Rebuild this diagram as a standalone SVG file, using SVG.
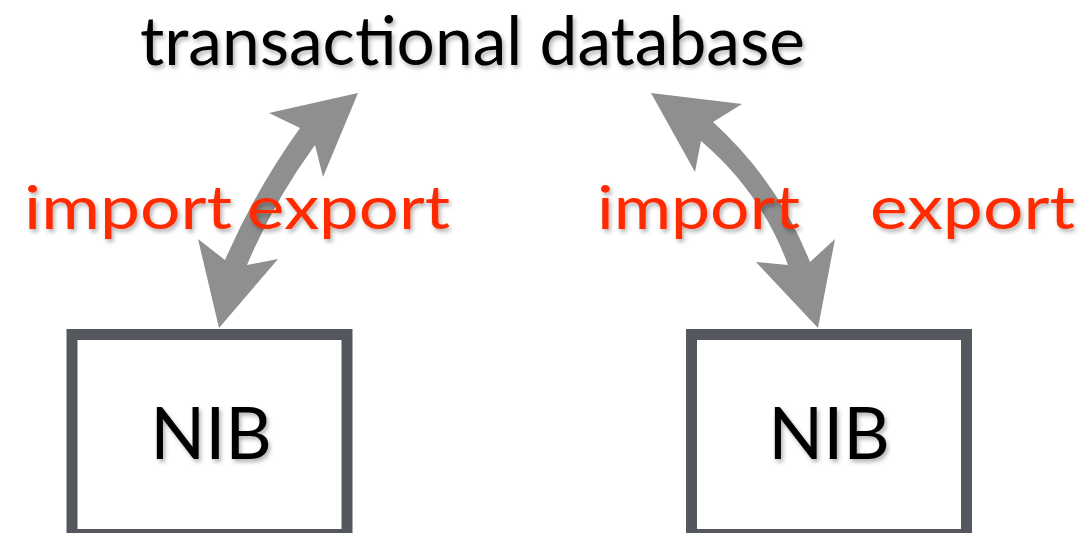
<svg xmlns="http://www.w3.org/2000/svg" width="1088" height="533" viewBox="0 0 1088 533">
<defs>
<filter id="sh" x="-10%" y="-20%" width="120%" height="150%">
<feDropShadow dx="2" dy="3" stdDeviation="2" flood-color="#000" flood-opacity="0.3"/>
</filter>
<style>
.t{font-family:Lato,"Liberation Sans",sans-serif;filter:url(#sh)}
.title{font-size:68px;fill:#000}
.lbl{font-size:60px;fill:#ff2a00}
.nib{font-size:72px;fill:#000;text-anchor:middle}
.box{fill:#fff;stroke:#54585e;stroke-width:11}
.arr{fill:#8f8f8f}
</style>
</defs>
<rect width="1088" height="533" fill="#fff"/>
<g id="connectors">
<path class="arr" d="M358,93 L269,113 L300,128 Q255.5,190 225,260 L198,239 L219,328 L278,259 L247,265 Q274,201 315,145 L323,177 Z"/>
<path class="arr" d="M651,93 L742,104 L713,122 Q778,181 810,262 L835,239 L818,328 L756,262 L788,265 Q761,192 701,141 L695,172 Z"/>
</g>
<g id="title"><text class="t title" x="140" y="65" textLength="665" lengthAdjust="spacingAndGlyphs">transactional database</text></g>
<g id="labels">
<text class="t lbl" x="24" y="229" textLength="208" lengthAdjust="spacingAndGlyphs">import</text>
<text class="t lbl" x="247" y="229" textLength="203" lengthAdjust="spacingAndGlyphs">export</text>
<text class="t lbl" x="597" y="229" textLength="203" lengthAdjust="spacingAndGlyphs">import</text>
<text class="t lbl" x="870" y="229" textLength="205" lengthAdjust="spacingAndGlyphs">export</text>
</g>
<g id="nib-left">
<rect class="box" x="72" y="334.5" width="275" height="200"/>
<text class="t nib" x="211" y="459">NIB</text>
</g>
<g id="nib-right">
<rect class="box" x="691.5" y="334.5" width="275" height="200"/>
<text class="t nib" x="829" y="459">NIB</text>
</g>
</svg>
